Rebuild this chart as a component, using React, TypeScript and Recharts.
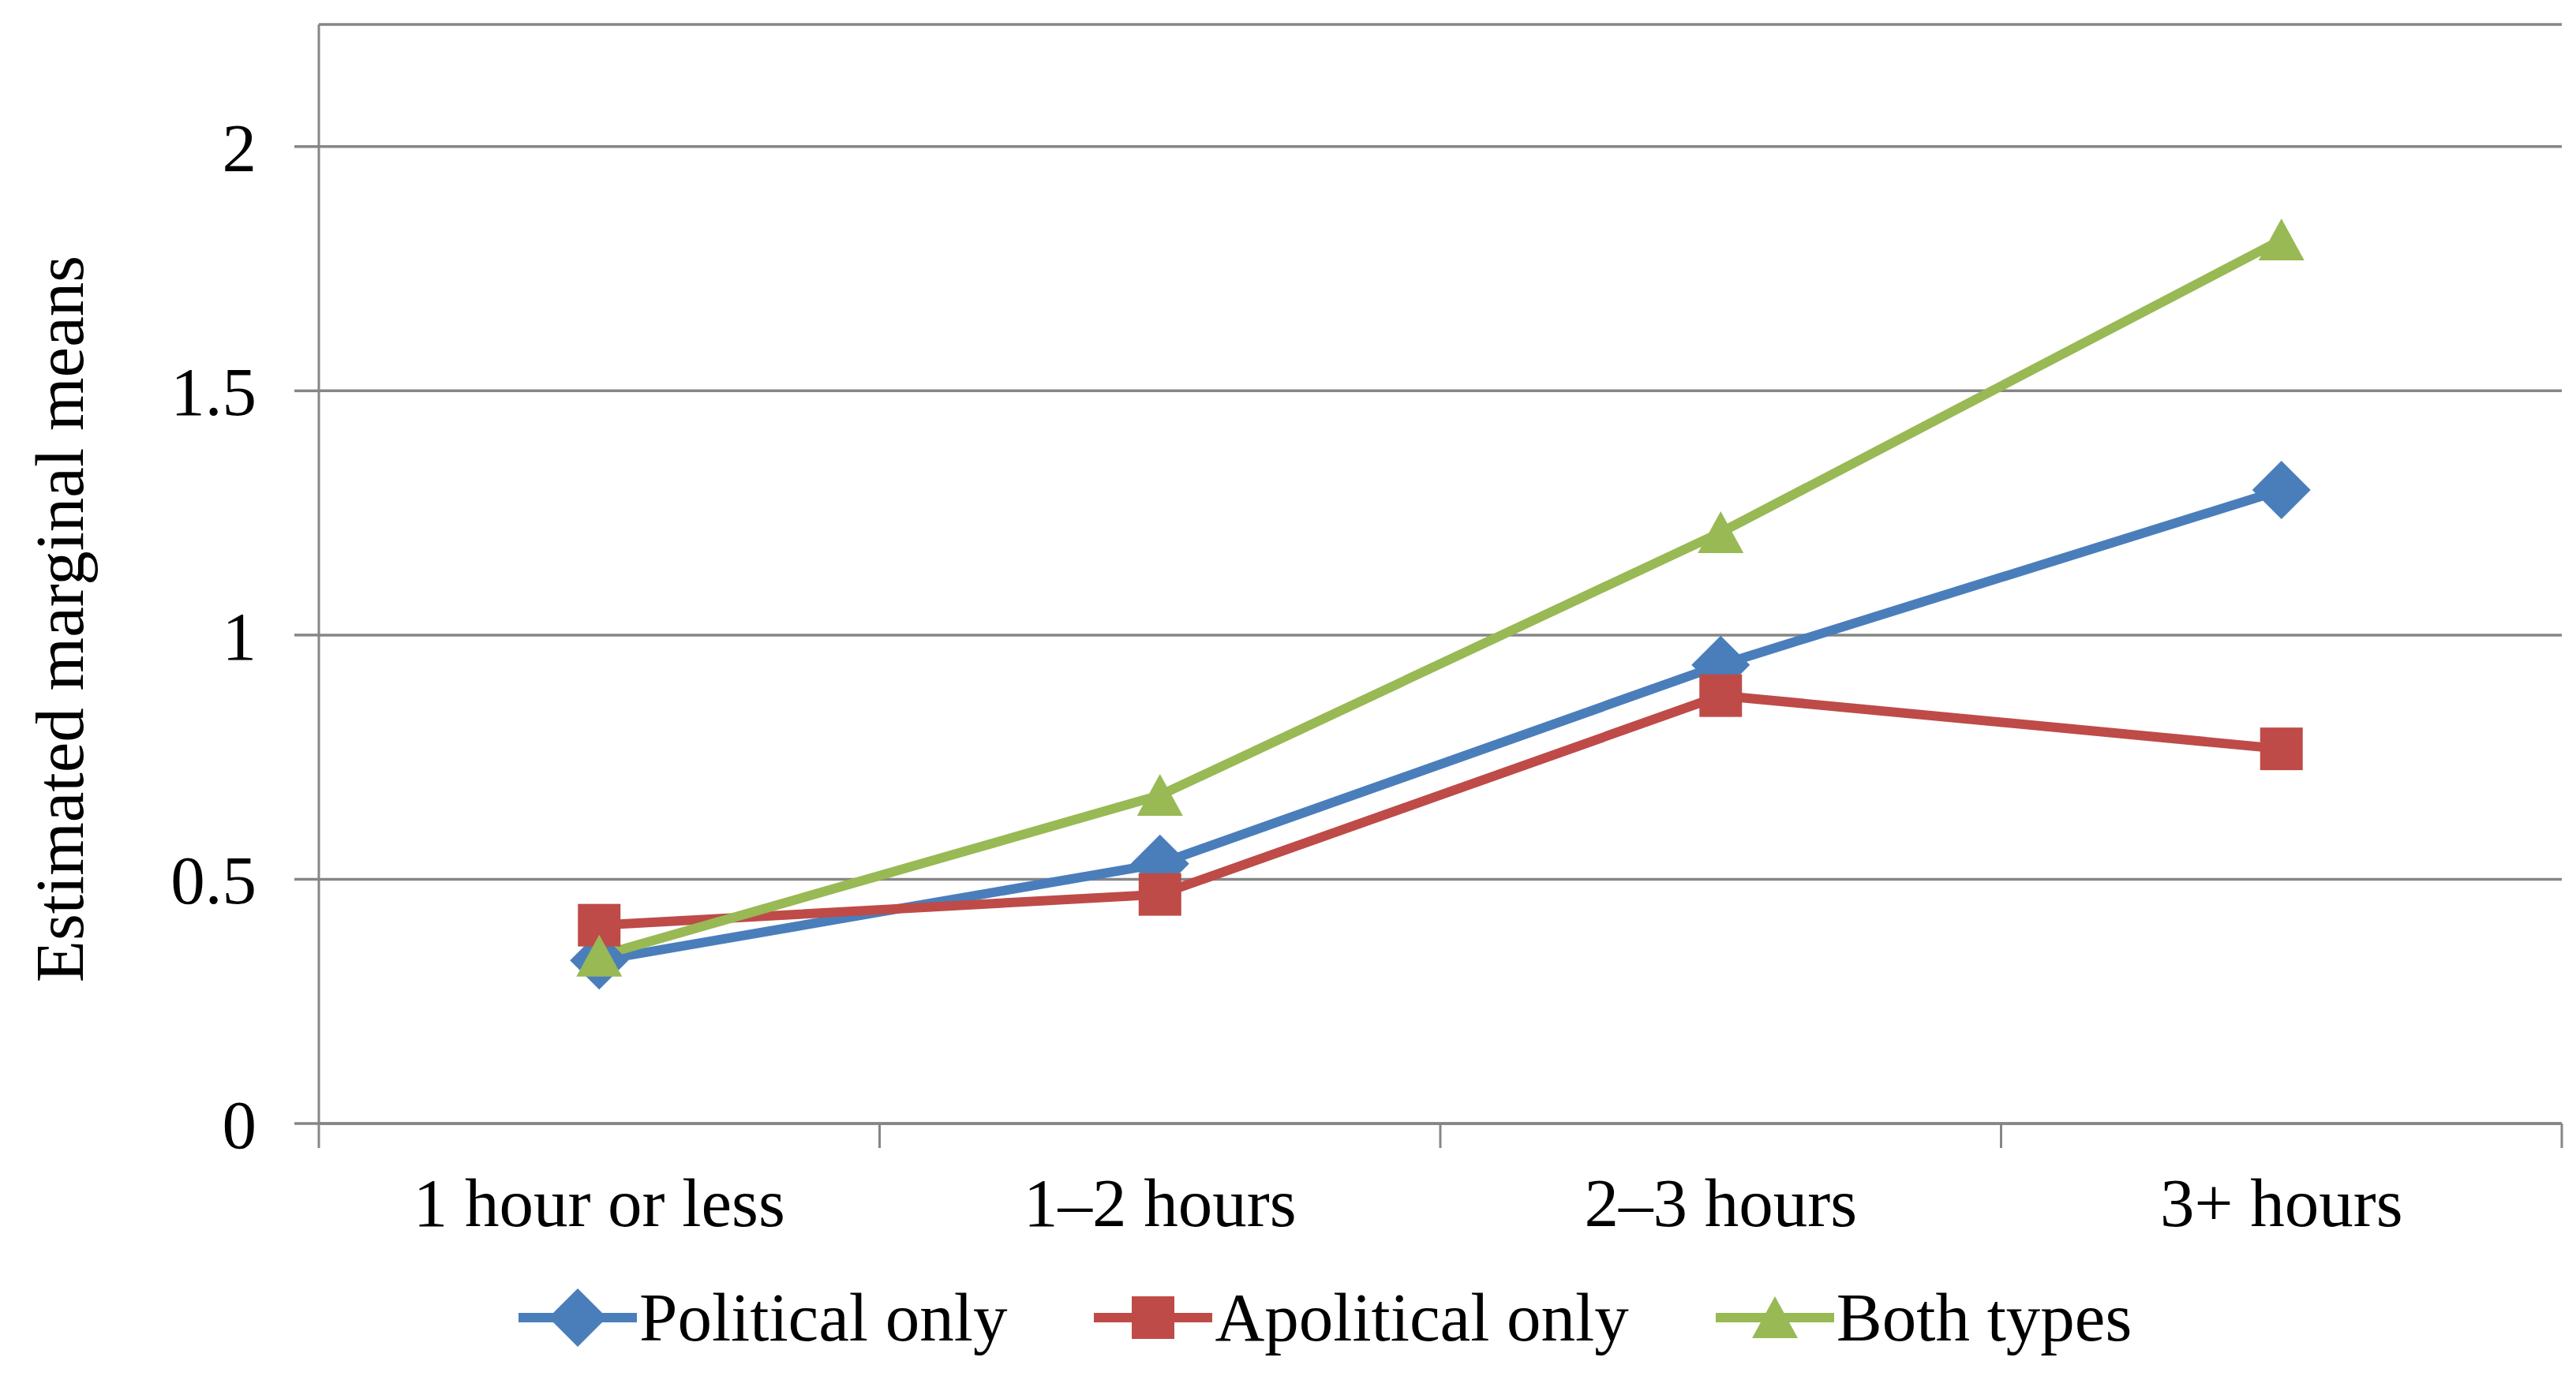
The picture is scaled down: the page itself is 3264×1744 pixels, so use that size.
import React from 'react'
import { LineChart, Line, XAxis, YAxis, CartesianGrid, Legend } from 'recharts'

const categories = ['1 hour or less', '1–2 hours', '2–3 hours', '3+ hours']
const political = [0.334, 0.532, 0.939, 1.297]
const apolitical = [0.406, 0.469, 0.876, 0.767]
const both = [0.343, 0.672, 1.21, 1.809]
const yTicks = [0, 0.5, 1, 1.5, 2]
const xTicks = [0, 0.5, 1, 1.5, 2, 2.5, 3, 3.5, 4]

const seriesNames = ['Political only', 'Apolitical only', 'Both types']
const BLUE = '#4A7EBB'
const RED = '#BE4B48'
const GREEN = '#98B954'
const GRID = '#868686'
const FONT = "'Liberation Serif', 'Times New Roman', serif"
const FS = 87

const data = categories.map((c, i) => ({
  x: i + 0.5,
  category: c,
  political: political[i],
  apolitical: apolitical[i],
  both: both[i],
}))

const Marker = ({ shape, cx, cy, color }: any) => {
  if (shape === 'diamond') {
    return <polygon points={`${cx},${cy - 37} ${cx + 37},${cy} ${cx},${cy + 37} ${cx - 37},${cy}`} fill={color} />
  }
  if (shape === 'square') {
    return <rect x={cx - 27} y={cy - 27} width={54} height={54} fill={color} />
  }
  return <polygon points={`${cx},${cy - 27} ${cx + 29},${cy + 26} ${cx - 29},${cy + 26}`} fill={color} />
}

const makeDot = (shape: string, color: string) => (props: any) => {
  const { cx, cy, index } = props
  return <Marker key={index} shape={shape} cx={cx} cy={cy} color={color} />
}

const XTick = (props: any) => {
  const { x, y, payload } = props
  const v = payload.value
  if (Number.isInteger(v)) {
    return <line x1={x} x2={x} y1={y} y2={y + 31} stroke={GRID} strokeWidth={3} />
  }
  return (
    <text x={x} y={y + 68} dy="0.71em" textAnchor="middle" fill="#000" fontSize={FS} fontFamily={FONT}>
      {categories[Math.floor(v)]}
    </text>
  )
}

const legendItems = [
  { name: seriesNames[0], color: BLUE, shape: 'diamond' },
  { name: seriesNames[1], color: RED, shape: 'square' },
  { name: seriesNames[2], color: GREEN, shape: 'triangle' },
]

const LegendContent = () => (
  <div style={{ display: 'flex', alignItems: 'center', paddingLeft: 657, height: 100 }}>
    {legendItems.map((item) => (
      <div key={item.name} style={{ display: 'flex', alignItems: 'center', marginRight: 110 }}>
        <svg width={150} height={100}>
          <line x1={0} x2={150} y1={50} y2={50} stroke={item.color} strokeWidth={12} />
          <Marker shape={item.shape} cx={75} cy={50} color={item.color} />
        </svg>
        <span style={{ fontFamily: FONT, fontSize: FS, lineHeight: '100px', color: '#000', marginLeft: 3 }}>
          {item.name}
        </span>
      </div>
    ))}
  </div>
)

const YLabel = ({ viewBox }: any) => {
  const x = viewBox.x + 75
  const y = viewBox.y + viewBox.height / 2 + 57
  return (
    <text
      x={x}
      y={y}
      transform={`rotate(-90, ${x}, ${y})`}
      textAnchor="middle"
      dominantBaseline="central"
      fill="#000"
      fontSize={FS}
      fontFamily={FONT}
    >
      Estimated marginal means
    </text>
  )
}

export default function App() {
  return (
    <div style={{ position: 'absolute', left: 0, top: 0, width: 3264, height: 1744, background: '#fff' }}>
      <LineChart width={3264} height={1744} data={data} margin={{ top: 31, right: 18, bottom: 0, left: 0 }}>
        <CartesianGrid vertical={false} stroke={GRID} strokeWidth={3.5} />
        <XAxis
          type="number"
          dataKey="x"
          domain={[0, 4]}
          ticks={xTicks}
          interval={0}
          tick={<XTick />}
          tickLine={false}
          tickSize={0}
          tickMargin={0}
          height={220}
          axisLine={{ stroke: GRID, strokeWidth: 3.5 }}
        />
        <YAxis
          type="number"
          domain={[0, 2.25]}
          ticks={yTicks}
          interval={0}
          width={404}
          tickSize={31}
          tickMargin={48}
          tick={{ fill: '#000', fontSize: FS, fontFamily: FONT }}
          tickLine={{ stroke: GRID, strokeWidth: 3.5 }}
          axisLine={{ stroke: GRID, strokeWidth: 3 }}
          label={<YLabel />}
        />
        <Legend
          verticalAlign="bottom"
          content={<LegendContent />}
          wrapperStyle={{ left: 0, bottom: 24, width: 3264, height: 100 }}
        />
        <Line
          dataKey="political"
          name={seriesNames[0]}
          stroke={BLUE}
          strokeWidth={12}
          dot={makeDot('diamond', BLUE)}
          activeDot={false}
          isAnimationActive={false}
        />
        <Line
          dataKey="apolitical"
          name={seriesNames[1]}
          stroke={RED}
          strokeWidth={12}
          dot={makeDot('square', RED)}
          activeDot={false}
          isAnimationActive={false}
        />
        <Line
          dataKey="both"
          name={seriesNames[2]}
          stroke={GREEN}
          strokeWidth={12}
          dot={makeDot('triangle', GREEN)}
          activeDot={false}
          isAnimationActive={false}
        />
      </LineChart>
    </div>
  )
}
